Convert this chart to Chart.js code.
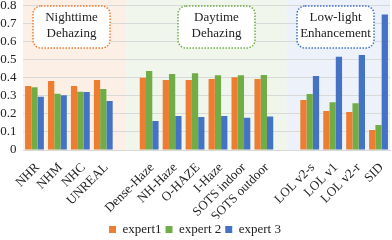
<!DOCTYPE html>
<html>
<head>
<meta charset="utf-8">
<script src="https://cdn.jsdelivr.net/npm/chart.js@4"></script>
<style>
  html, body { margin: 0; padding: 0; background: #fff; }
  #wrap { width: 392px; height: 240px; }
</style>
</head>
<body>
<div id="wrap"><canvas id="chart" width="392" height="240"></canvas></div>
<script>
const categories = ['NHR', 'NHM', 'NHC', 'UNREAL', '', 'Dense-Haze', 'NH-Haze', 'O-HAZE', 'I-Haze',
    'SOTS indoor', 'SOTS outdoor', '', 'LOL v2-s', 'LOL v1', 'LOL v2-r', 'SID'];
const seriesNames = ['expert1', 'expert 2', 'expert 3'];
const expert1 = [0.354, 0.381, 0.354, 0.387, null, 0.399, 0.387, 0.387, 0.392, 0.402, 0.392, null, 0.276, 0.215, 0.21, 0.11];
const expert2 = [0.346, 0.311, 0.322, 0.337, null, 0.436, 0.42, 0.424, 0.413, 0.413, 0.414, null, 0.309, 0.264, 0.258, 0.138];
const expert3 = [0.294, 0.302, 0.32, 0.271, null, 0.16, 0.188, 0.182, 0.188, 0.178, 0.185, null, 0.409, 0.515, 0.525, 0.748];
const yTicks = [0, 0.1, 0.2, 0.3, 0.4, 0.5, 0.6, 0.7, 0.8];

// task groups: category range, label lines, colours, note box
const groups = [
    { from: 0, to: 4, lines: ['Nighttime', 'Dehazing'], bg: '#fcf0e6', edge: '#ed7d31', box: [33, 6, 77, 42] },
    { from: 4, to: 11, lines: ['Daytime', 'Dehazing'], bg: '#f0f6ec', edge: '#70ad47', box: [178, 6, 77, 42] },
    { from: 11, to: 16, lines: ['Low-light', 'Enhancement'], bg: '#edf2fa', edge: '#4472c4', box: [297, 6, 77, 42] }
];

const serif = '"Liberation Serif", "Times New Roman", serif';
const colors = ['#ed7d31', '#70ad47', '#4472c4'];

const bands = {
    id: 'bands',
    beforeDraw(chart) {
        const { ctx, chartArea: a, scales: { x } } = chart;
        ctx.save();
        groups.forEach(g => {
            const l = g.from === 0 ? a.left : x.getPixelForValue(g.from);
            const r = g.to >= categories.length ? a.right : x.getPixelForValue(g.to);
            ctx.fillStyle = g.bg;
            ctx.fillRect(l, 0, r - l, a.bottom);
        });
        ctx.restore();
    },
    afterDraw(chart) {
        const { ctx } = chart;
        ctx.save();
        groups.forEach(g => {
            const [bx, by, bw, bh] = g.box;
            ctx.beginPath();
            ctx.roundRect(bx, by, bw, bh, 8);
            ctx.fillStyle = '#fff';
            ctx.fill();
            ctx.setLineDash([1.5, 1.5]);
            ctx.lineWidth = 1.5;
            ctx.strokeStyle = g.edge;
            ctx.stroke();
            ctx.setLineDash([]);
            ctx.fillStyle = '#222';
            ctx.font = '13px ' + serif;
            ctx.textAlign = 'center';
            ctx.textBaseline = 'middle';
            ctx.fillText(g.lines[0], bx + bw / 2, by + 12);
            ctx.fillText(g.lines[1], bx + bw / 2, by + 28);
        });
        ctx.restore();
    }
};

new Chart(document.getElementById('chart'), {
    type: 'bar',
    data: {
        labels: categories,
        datasets: [expert1, expert2, expert3].map((d, i) => ({
            label: seriesNames[i],
            data: d,
            backgroundColor: colors[i],
            borderWidth: 0,
            categoryPercentage: 0.82,
            barPercentage: 1
        }))
    },
    options: {
        responsive: false,
        animation: false,
        layout: { padding: { top: 0, right: 2, left: 0, bottom: -6 } },
        plugins: {
            legend: {
                position: 'bottom',
                labels: {
                    font: { family: serif, size: 13, lineHeight: 1 },
                    color: '#222',
                    boxWidth: 7,
                    boxHeight: 7,
                    padding: 4
                }
            },
            tooltip: { enabled: false }
        },
        scales: {
            x: {
                afterFit(s) { s.height = 69; },
                grid: { display: false },
                border: { color: '#d9d9d9' },
                ticks: {
                    autoSkip: false,
                    maxRotation: 45,
                    minRotation: 45,
                    padding: 2,
                    labelOffset: 3,
                    color: '#222',
                    font: { family: serif, size: 13 }
                }
            },
            y: {
                min: 0,
                max: 0.8,
                afterFit(s) { s.width = 23; },
                afterBuildTicks(s) { s.ticks = yTicks.map(v => ({ value: v })); },
                grid: { color: '#d9d9d9', drawTicks: false },
                border: { display: false },
                ticks: {
                    autoSkip: false,
                    padding: 0,
                    color: '#222',
                    font: { family: serif, size: 13, lineHeight: 0.8 },
                    // trailing en space keeps the gap to the plot
                    callback: v => (v === 0 ? '0' : v.toFixed(1)) + '\u2002'
                }
            }
        }
    },
    plugins: [bands]
});
</script>
</body>
</html>
